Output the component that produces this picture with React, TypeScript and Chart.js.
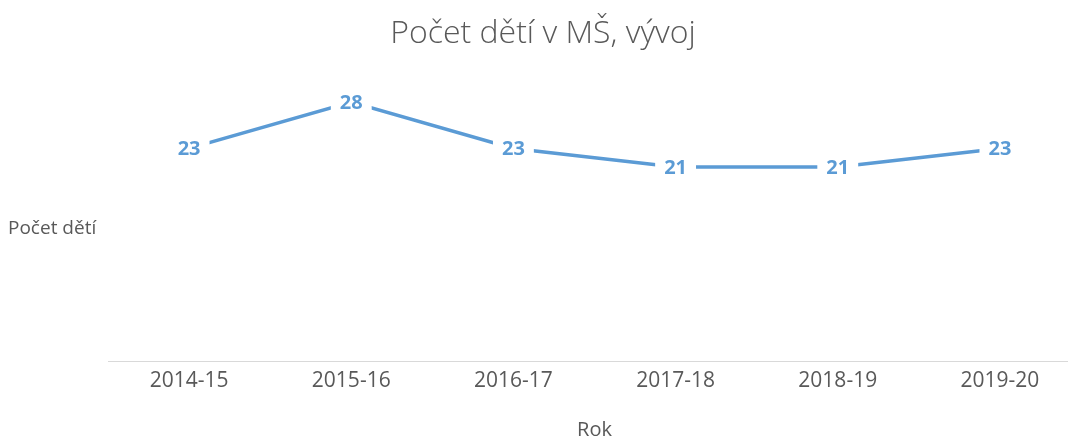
import React, { useEffect, useRef } from "react";
import { Chart, registerables } from "chart.js";

Chart.register(...registerables);

const categories = ["2014-15", "2015-16", "2016-17", "2017-18", "2018-19", "2019-20"];
const values = [23, 28, 23, 21, 21, 23];
const titleText = "Počet dětí v MŠ, vývoj";
const yTitle = "Počet dětí";
const xTitle = "Rok";

const LINE = "#5B9BD5";
const TEXT = "#595959";
const FONT = "'Open Sans', sans-serif";

const labelPlugin = {
  id: "labels",
  afterDatasetsDraw(chart: any) {
    const ctx = chart.ctx;
    const meta = chart.getDatasetMeta(0);
    ctx.save();
    ctx.font = `bold 20px ${FONT}`;
    ctx.textAlign = "center";
    ctx.textBaseline = "middle";
    meta.data.forEach((pt: any, i: number) => {
      const t = String(values[i]);
      const w = ctx.measureText(t).width;
      ctx.fillStyle = "#ffffff";
      ctx.fillRect(pt.x - w / 2 - 9, pt.y - 12, w + 18, 24);
      ctx.fillStyle = LINE;
      ctx.fillText(t, pt.x, pt.y + 1);
    });
    ctx.restore();
  },
  afterDraw(chart: any) {
    const ctx = chart.ctx;
    const a = chart.chartArea;
    ctx.save();
    ctx.fillStyle = TEXT;
    ctx.font = `19px ${FONT}`;
    ctx.textAlign = "left";
    ctx.textBaseline = "alphabetic";
    ctx.fillText(yTitle, 8, (a.top + a.bottom) / 2 + 11);
    ctx.font = `300 32px ${FONT}`;
    ctx.textAlign = "center";
    ctx.fillText(titleText, 543, 43);
    ctx.restore();
  },
};

export default function App() {
  const ref = useRef<HTMLCanvasElement>(null);
  useEffect(() => {
    if (!ref.current) return;
    const chart = new Chart(ref.current, {
      type: "line",
      data: {
        labels: categories,
        datasets: [
          {
            data: values,
            borderColor: LINE,
            borderWidth: 3.5,
            pointRadius: 0,
            tension: 0,
          },
        ],
      },
      options: {
        animation: false,
        responsive: true,
        maintainAspectRatio: false,
        layout: { padding: { left: 108, right: 4, top: 83.5, bottom: 0 } },
        plugins: {
          legend: { display: false },
          tooltip: { enabled: false },
          title: { display: false },
        },
        scales: {
          x: {
            offset: true,
            grid: { display: false, drawTicks: false },
            border: { display: true, color: "#d9d9d9", width: 1 },
            ticks: { color: TEXT, font: { family: FONT, size: 21 }, padding: 7 },
            title: {
              display: true,
              text: xTitle,
              color: TEXT,
              font: { family: FONT, size: 20 },
              padding: { top: 17, bottom: 0 },
            },
          },
          y: {
            display: false,
            min: 0,
            max: 30,
          },
        },
      },
      plugins: [labelPlugin],
    });
    return () => chart.destroy();
  }, []);
  return (
    <div style={{ position: "absolute", left: 0, top: 0, width: 1068, height: 438, overflow: "hidden", background: "#fff" }}>
      <div style={{ position: "relative", width: 1085, height: 442 }}>
        <canvas ref={ref} />
      </div>
    </div>
  );
}
